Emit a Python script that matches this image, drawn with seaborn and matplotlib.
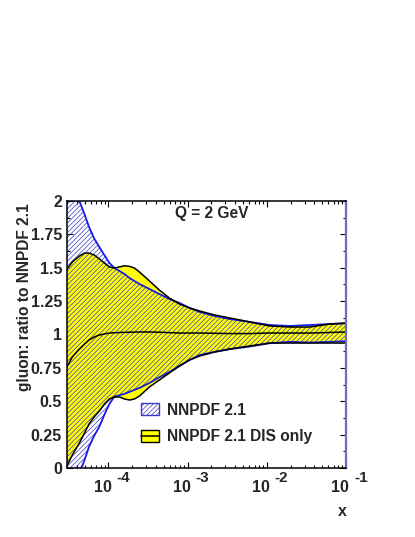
import numpy as np
import pandas as pd
import matplotlib
matplotlib.use("Agg")
import matplotlib.pyplot as plt
from matplotlib.patches import Patch
from matplotlib.lines import Line2D
from matplotlib.ticker import FixedLocator, NullFormatter, LogLocator
import seaborn as sns

# ---------------- data ----------------
x = [3.0e-5, 3.5e-5, 4.3e-5, 5.0e-5, 5.7e-5, 6.6e-5, 7.7e-5, 8.9e-5, 1.03e-4,
     1.19e-4, 1.38e-4, 1.6e-4, 1.85e-4, 2.13e-4, 2.47e-4, 3.3e-4, 4.4e-4,
     5.9e-4, 7.9e-4, 1.06e-3, 1.42e-3, 2.2e-3, 3.4e-3, 6.1e-3, 1.09e-2,
     1.95e-2, 3.5e-2, 6.3e-2, 0.1]

nnpdf_up = [2.25, 2.13, 2.0, 1.90, 1.805, 1.72, 1.655, 1.595, 1.536, 1.498,
            1.476, 1.453, 1.423, 1.401, 1.378, 1.341, 1.303, 1.266, 1.236,
            1.199, 1.169, 1.139, 1.116, 1.094, 1.071, 1.064, 1.071, 1.079, 1.083]
nnpdf_lo = [-0.27, -0.16, -0.04, 0.06, 0.16, 0.24, 0.31, 0.40, 0.48, 0.535,
            0.545, 0.556, 0.57, 0.585, 0.60, 0.637, 0.68, 0.72, 0.765, 0.81,
            0.846, 0.87, 0.89, 0.91, 0.935, 0.945, 0.94, 0.945, 0.95]

dis_up = [1.49, 1.543, 1.588, 1.61, 1.61, 1.596, 1.566, 1.536, 1.506, 1.498,
          1.506, 1.515, 1.51, 1.498, 1.468, 1.401, 1.333, 1.273, 1.228, 1.199,
          1.176, 1.146, 1.124, 1.094, 1.064, 1.056, 1.056, 1.079, 1.086]
dis_lo = [0.015, 0.097, 0.187, 0.262, 0.33, 0.382, 0.427, 0.479, 0.517, 0.532,
          0.532, 0.517, 0.509, 0.517, 0.539, 0.607, 0.659, 0.712, 0.764, 0.809,
          0.839, 0.869, 0.891, 0.914, 0.936, 0.936, 0.936, 0.936, 0.936]
dis_c = [0.757, 0.831, 0.891, 0.929, 0.959, 0.981, 0.996, 1.004, 1.011, 1.013,
         1.015, 1.016, 1.017, 1.018, 1.019, 1.019, 1.017, 1.014, 1.011, 1.011,
         1.011, 1.009, 1.007, 1.007, 1.011, 1.011, 1.011, 1.015, 1.019]

y_ticks = [0, 0.25, 0.5, 0.75, 1, 1.25, 1.5, 1.75, 2]
y_tick_labels = ["0", "0.25", "0.5", "0.75", "1", "1.25", "1.5", "1.75", "2"]
x_decades = [1e-4, 1e-3, 1e-2, 1e-1]
x_exponents = ["-4", "-3", "-2", "-1"]
legend_labels = ["NNPDF 2.1", "NNPDF 2.1 DIS only"]
title_text = "Q = 2 GeV"

df = pd.DataFrame({"x": x, "nn_up": nnpdf_up, "nn_lo": nnpdf_lo,
                   "dis_up": dis_up, "dis_lo": dis_lo, "dis_c": dis_c})

# ---------------- style ----------------
sns.set_theme(style="ticks")
plt.rcParams["font.family"] = ["Liberation Sans", "DejaVu Sans"]
plt.rcParams["font.weight"] = "bold"
plt.rcParams["hatch.linewidth"] = 0.5

BLUE = "#1a1ae6"
HATCH = "#3a3ac8"
YELLOW = "#ffff00"
FS = 11.5
HATCH_PATTERN = "/" * 7

fig = plt.figure(figsize=(4.15, 5.37), dpi=100)
fig.patch.set_facecolor("white")
ax = fig.add_axes([0.1614, 0.1285, 0.6723, 0.4972])
ax.set_facecolor("white")
ax.set_xscale("log")
ax.set_xlim(3.0e-5, 0.1)
ax.set_ylim(0, 2)

# bands
ax.fill_between(df["x"], df["dis_lo"], df["dis_up"], facecolor=YELLOW,
                edgecolor="none", linewidth=0, zorder=1)
ax.fill_between(df["x"], df["nn_lo"], df["nn_up"], facecolor="none",
                edgecolor=HATCH, hatch=HATCH_PATTERN, linewidth=0, zorder=2)

# edges and central line
for col in ["nn_up", "nn_lo"]:
    sns.lineplot(data=df, x="x", y=col, ax=ax, color=BLUE, linewidth=1.3,
                 estimator=None, sort=False, zorder=3)
for col in ["dis_up", "dis_lo"]:
    sns.lineplot(data=df, x="x", y=col, ax=ax, color="black", linewidth=1.1,
                 estimator=None, sort=False, zorder=4)
sns.lineplot(data=df, x="x", y="dis_c", ax=ax, color="black", linewidth=1.1,
             estimator=None, sort=False, zorder=5)

# spines
for s in ["left", "bottom", "top"]:
    ax.spines[s].set_color("black")
    ax.spines[s].set_linewidth(1.1)
ax.spines["right"].set_color("#6b6bc0")
ax.spines["right"].set_linewidth(1.6)
for s in ax.spines.values():
    s.set_zorder(6)

# ticks
ax.set_yticks(y_ticks)
ax.set_yticklabels(y_tick_labels, fontsize=FS, fontweight="bold")
ax.yaxis.set_minor_locator(FixedLocator(np.arange(0.125, 2, 0.25)))
ax.xaxis.set_major_locator(FixedLocator(x_decades))
ax.xaxis.set_minor_locator(LogLocator(base=10, subs=np.arange(2, 10)))
ax.xaxis.set_major_formatter(NullFormatter())
ax.xaxis.set_minor_formatter(NullFormatter())
ax.tick_params(axis="both", which="both", direction="in", top=True,
               right=True, color="black", width=0.8)
ax.tick_params(axis="both", which="major", length=4.5)
ax.tick_params(axis="both", which="minor", length=2.3)
ax.tick_params(axis="y", which="major", pad=3.5)

# ROOT-style x tick labels: "10" and exponent
for xv, ex in zip(x_decades, x_exponents):
    ax.annotate("10", xy=(xv, 0), xycoords=ax.get_xaxis_transform(),
                xytext=(3, -12), textcoords="offset pixels", ha="right",
                va="top", fontsize=FS, fontweight="bold", annotation_clip=False)
    ax.annotate(ex, xy=(xv, 0), xycoords=ax.get_xaxis_transform(),
                xytext=(8, -3), textcoords="offset pixels", ha="left",
                va="top", fontsize=FS - 0.5, fontweight="bold",
                annotation_clip=False)

# axis labels
ax.set_xlabel("x", fontsize=FS, fontweight="bold")
ax.xaxis.set_label_coords(0.986, -0.135)
ax.set_ylabel("gluon: ratio to NNPDF 2.1", fontsize=FS - 0.3,
              fontweight="bold", loc="top")
ax.yaxis.set_label_coords(-0.125, 0.992)

ax.text(0.52, 0.955, title_text, transform=ax.transAxes, ha="center",
        va="center", fontsize=FS - 0.3, fontweight="bold", zorder=7)

# legend
h1 = Patch(facecolor="white", edgecolor=HATCH, hatch=HATCH_PATTERN,
           linewidth=1.0)
h2 = (Patch(facecolor=YELLOW, edgecolor="black", linewidth=1.0),
      Line2D([], [], color="black", linewidth=1.1))
leg = ax.legend([h1, h2], legend_labels, loc="upper left",
                bbox_to_anchor=(0.265, 0.245), frameon=False,
                prop={"size": FS - 0.3, "weight": "bold"},
                handlelength=1.15, handleheight=0.75, handletextpad=0.5,
                labelspacing=0.75, borderpad=0, borderaxespad=0)
leg.set_zorder(8)

fig.savefig("out.png", dpi=100, facecolor="white")
